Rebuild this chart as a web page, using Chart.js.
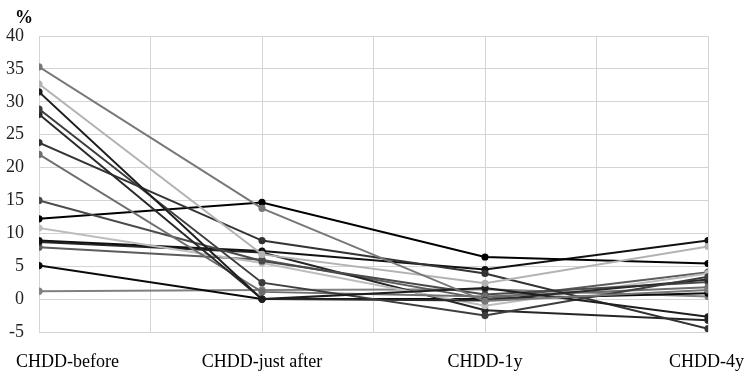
<!DOCTYPE html>
<html>
<head>
<meta charset="utf-8">
<script src="https://cdn.jsdelivr.net/npm/chart.js@4"></script>
<style>
  html, body { margin: 0; padding: 0; background: #fff; }
  #wrap { width: 750px; height: 392px; }
</style>
</head>
<body>
<div id="wrap"><canvas id="lineChart"></canvas></div>
<script>
const categories = ['CHDD-before', 'CHDD-just after', 'CHDD-1y', 'CHDD-4y'];
const yTicks = [-5, 0, 5, 10, 15, 20, 25, 30, 35, 40];
const unitLabel = '%';

// one array per patient line
const s1  = [35.3, 13.8, -0.3, 1.4];
const s2  = [32.7, 6.8, 2.4, 8.0];
const s3  = [31.5, 0.0, 1.7, -2.7];
const s4  = [28.9, 2.5, -2.5, 3.4];
const s5  = [28.1, 0.0, -0.2, 3.0];
const s6  = [23.8, 8.9, 3.9, -4.5];
const s7  = [22.0, 1.1, 0.4, 1.8];
const s8  = [15.0, 5.8, 0.7, 2.6];
const s9  = [12.2, 14.7, 6.4, 5.4];
const s10 = [10.8, 5.5, -1.0, 3.9];
const s11 = [8.9, 7.3, 4.5, 8.9];
const s12 = [8.7, 7.1, -1.7, -3.2];
const s13 = [7.9, 6.0, 0.0, 4.1];
const s14 = [5.1, 0.0, 0.0, 0.9];
const s15 = [1.2, 1.4, 1.5, 0.4];

const seriesList = [s1, s2, s3, s4, s5, s6, s7, s8, s9, s10, s11, s12, s13, s14, s15];
const shades = ['#777777', '#b3b3b3', '#1e1e1e', '#3d3d3d', '#2a2a2a', '#333333', '#6e6e6e',
                '#4a4a4a', '#000000', '#bdbdbd', '#111111', '#262626', '#5c5c5c', '#0a0a0a', '#808080'];

const fontFam = '"Liberation Serif", "Times New Roman", serif';

const xLabels = {
    id: 'xLabels',
    afterDraw(chart) {
        const ctx = chart.ctx;
        const xs = chart.scales.x;
        ctx.save();
        ctx.font = '18px ' + fontFam;
        ctx.fillStyle = '#000';
        ctx.textBaseline = 'alphabetic';
        categories.forEach((c, i) => {
            const w = ctx.measureText(c).width;
            let left = xs.getPixelForValue(i) - w / 2;
            if (left < 16) left = 16;
            if (left + w > 744) left = 744 - w;
            ctx.fillText(c, left, 367);
        });
        ctx.font = 'bold 18px ' + fontFam;
        ctx.fillText(unitLabel, 15, 23);
        ctx.restore();
    }
};

const datasets = seriesList.map((vals, k) => ({
    data: vals.map((v, i) => ({x: i, y: v})),
    borderColor: shades[k],
    backgroundColor: shades[k],
    borderWidth: 2,
    pointRadius: 2.6,
    pointHoverRadius: 2.6,
    tension: 0
}));

new Chart(document.getElementById('lineChart'), {
    type: 'line',
    data: { datasets: datasets },
    options: {
        responsive: true,
        maintainAspectRatio: false,
        animation: false,
        layout: { padding: { top: 36, right: 42, left: 0, bottom: 0 } },
        plugins: { legend: { display: false }, tooltip: { enabled: false } },
        scales: {
            x: {
                type: 'linear',
                min: 0,
                max: 3,
                afterBuildTicks: s => { s.ticks = [0, 0.5, 1, 1.5, 2, 2.5, 3].map(v => ({value: v})); },
                afterFit: s => { s.height = 60; },
                ticks: { display: false },
                grid: { color: '#d4d4d4', lineWidth: 1, drawTicks: false },
                border: { display: false }
            },
            y: {
                min: -5,
                max: 40,
                afterBuildTicks: s => { s.ticks = yTicks.map(v => ({value: v})); },
                afterFit: s => { s.width = 39; },
                ticks: { padding: 15, color: '#222', font: { family: fontFam, size: 18 } },
                grid: { color: '#d4d4d4', lineWidth: 1, drawTicks: false },
                border: { display: false }
            }
        }
    },
    plugins: [xLabels]
});
</script>
</body>
</html>
